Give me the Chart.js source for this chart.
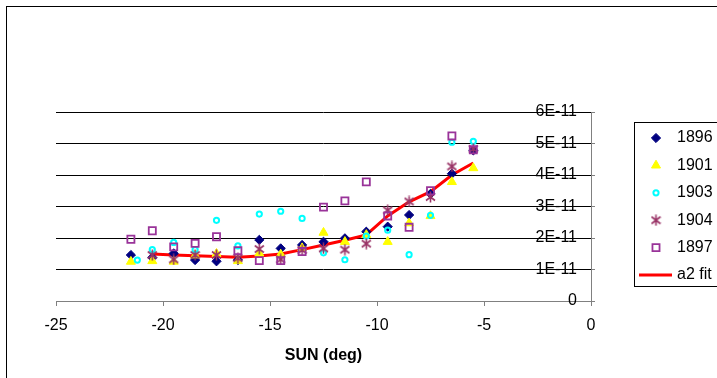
<!DOCTYPE html>
<html>
<head>
<meta charset="utf-8">
<title>SUN (deg)</title>
<script src="https://cdn.jsdelivr.net/npm/chart.js@4.4.0/dist/chart.umd.min.js"></script>
<style>
  html, body { margin: 0; padding: 0; background: #fff; }
  #wrap { width: 717px; height: 378px; }
</style>
</head>
<body>
<div id="wrap"><canvas id="sunChart" width="717" height="378"></canvas></div>
<script>
// sun elevation bins (deg)
var sunDeg = [-21.5, -20.5, -19.5, -18.5, -17.5, -16.5, -15.5, -14.5, -13.5,
              -12.5, -11.5, -10.5, -9.5, -8.5, -7.5, -6.5, -5.5];
var sunDeg1903 = [-21.2, -20.5, -19.5, -18.5, -17.5, -16.5, -15.5, -14.5, -13.5,
                  -12.5, -11.5, -10.5, -9.5, -8.5, -7.5, -6.5, -5.5];
var sunDegFit = [-20.5, -19.5, -18.5, -17.5, -16.5, -15.5, -14.5, -13.5,
                 -12.5, -11.5, -10.5, -9.5, -8.5, -7.5, -6.5, -5.5];

var y1896 = [1.46e-11, 1.38e-11, 1.51e-11, 1.30e-11, 1.26e-11, 1.30e-11, 1.94e-11, 1.67e-11, 1.78e-11,
             1.88e-11, 1.99e-11, 2.20e-11, 2.36e-11, 2.73e-11, 3.40e-11, 4.04e-11, 4.78e-11];
var y1901 = [1.25e-11, 1.27e-11, 1.25e-11, 1.45e-11, 1.50e-11, 1.27e-11, 1.51e-11, 1.48e-11, 1.68e-11,
             2.17e-11, 1.88e-11, 2.10e-11, 1.88e-11, 2.47e-11, 2.70e-11, 3.78e-11, 4.22e-11];
var y1903 = [1.30e-11, 1.63e-11, 1.86e-11, 1.63e-11, 2.56e-11, 1.75e-11, 2.76e-11, 2.85e-11, 2.62e-11,
             1.53e-11, 1.31e-11, 2.06e-11, 2.25e-11, 1.47e-11, 2.72e-11, 5.04e-11, 5.07e-11];
var y1904 = [1.46e-11, 1.32e-11, 1.46e-11, 1.46e-11, 1.36e-11, 1.65e-11, 1.32e-11, 1.62e-11,
             1.67e-11, 1.63e-11, 1.82e-11, 2.88e-11, 3.16e-11, 3.30e-11, 4.27e-11, 4.83e-11];
var y1897 = [1.96e-11, 2.23e-11, 1.72e-11, 1.83e-11, 2.04e-11, 1.60e-11, 1.28e-11, 1.28e-11, 1.57e-11,
             2.98e-11, 3.18e-11, 3.78e-11, 2.70e-11, 2.34e-11, 3.50e-11, 5.24e-11, 4.80e-11];
var yFit = [1.49e-11, 1.46e-11, 1.44e-11, 1.41e-11, 1.39e-11, 1.43e-11, 1.49e-11, 1.63e-11,
            1.78e-11, 1.93e-11, 2.10e-11, 2.70e-11, 3.15e-11, 3.47e-11, 4.00e-11, 4.38e-11];

var xTickValues = [-25, -20, -15, -10, -5, 0];
var yTickValues = [0, 1e-11, 2e-11, 3e-11, 4e-11, 5e-11, 6e-11];

Chart.defaults.font.family = '"Liberation Sans", Arial, sans-serif';
Chart.defaults.font.size = 16;
Chart.defaults.color = '#000';

function toPoints(xs, ys) {
    return xs.map(function (x, i) { return { x: x, y: ys[i] }; });
}

// excel style "*" marker: a cross with a vertical bar
function asteriskMarker(color) {
    var c = document.createElement('canvas');
    c.width = 11; c.height = 12;
    var g = c.getContext('2d');
    g.strokeStyle = color;
    g.lineWidth = 1.6;
    g.beginPath();
    g.moveTo(5.5, 0.5); g.lineTo(5.5, 11.5);
    g.moveTo(1, 2.5); g.lineTo(10, 9.5);
    g.moveTo(1, 9.5); g.lineTo(10, 2.5);
    g.stroke();
    return c;
}

// white page with the outer chart frame
var chartFrame = {
    id: 'chartFrame',
    beforeDraw: function (chart) {
        var ctx = chart.ctx;
        ctx.save();
        ctx.fillStyle = '#fff';
        ctx.fillRect(0, 0, chart.width, chart.height);
        ctx.strokeStyle = '#000';
        ctx.lineWidth = 1;
        ctx.strokeRect(6.5, 6.5, 800, 500);
        ctx.restore();
    }
};

// boxed legend on the right hand side
var legendBox = {
    id: 'legendBox',
    afterDraw: function (chart) {
        var ctx = chart.ctx;
        ctx.save();
        ctx.strokeStyle = '#000';
        ctx.lineWidth = 1;
        ctx.strokeRect(634.5, 122.5, 120, 164);
        ctx.font = '16px "Liberation Sans", Arial, sans-serif';
        ctx.textBaseline = 'middle';
        chart.data.datasets.forEach(function (ds, i) {
            var y = 138 + i * 27.4;
            if (ds.showLine) {
                ctx.strokeStyle = ds.borderColor;
                ctx.lineWidth = ds.borderWidth;
                ctx.beginPath();
                ctx.moveTo(639, y);
                ctx.lineTo(672, y);
                ctx.stroke();
            } else {
                ctx.fillStyle = ds.backgroundColor;
                ctx.strokeStyle = ds.borderColor;
                ctx.lineWidth = ds.borderWidth;
                Chart.helpers.drawPoint(ctx, {
                    pointStyle: ds.pointStyle,
                    radius: ds.pointRadius,
                    borderWidth: ds.borderWidth,
                    rotation: 0
                }, 656, y);
            }
            ctx.fillStyle = '#000';
            ctx.fillText(ds.label, 677, y);
        });
        ctx.restore();
    }
};

new Chart(document.getElementById('sunChart'), {
    type: 'scatter',
    data: {
        datasets: [{
            label: '1896',
            data: toPoints(sunDeg, y1896),
            pointStyle: 'rectRot',
            pointRadius: 4.6,
            backgroundColor: '#000080',
            borderColor: '#000080',
            borderWidth: 1,
            order: 5
        }, {
            label: '1901',
            data: toPoints(sunDeg, y1901),
            pointStyle: 'triangle',
            pointRadius: 5.2,
            backgroundColor: '#ffff00',
            borderColor: '#ffff00',
            borderWidth: 1,
            order: 4
        }, {
            label: '1903',
            data: toPoints(sunDeg1903, y1903),
            pointStyle: 'circle',
            pointRadius: 2.6,
            backgroundColor: 'rgba(0,0,0,0)',
            borderColor: '#00ffff',
            borderWidth: 2,
            order: 3
        }, {
            label: '1904',
            data: toPoints(sunDegFit, y1904),
            pointStyle: asteriskMarker('#993366'),
            pointRadius: 5,
            backgroundColor: '#993366',
            borderColor: '#993366',
            borderWidth: 1.6,
            order: 2
        }, {
            label: '1897',
            data: toPoints(sunDeg, y1897),
            pointStyle: 'rect',
            pointRadius: 5,
            backgroundColor: 'rgba(0,0,0,0)',
            borderColor: '#993399',
            borderWidth: 1.8,
            order: 1
        }, {
            label: 'a2 fit',
            data: toPoints(sunDegFit, yFit),
            showLine: true,
            pointRadius: 0,
            borderColor: '#ff0000',
            borderWidth: 3,
            tension: 0,
            order: 6
        }]
    },
    options: {
        responsive: false,
        animation: false,
        devicePixelRatio: 1,
        layout: { padding: { left: 56, top: 112, right: 116, bottom: 0 } },
        plugins: {
            legend: { display: false },
            tooltip: { enabled: false }
        },
        scales: {
            x: {
                type: 'linear',
                min: -25,
                max: 0,
                afterBuildTicks: function (s) {
                    s.ticks = xTickValues.map(function (v) { return { value: v }; });
                },
                afterFit: function (s) { s.height = 77; },
                grid: { drawOnChartArea: false, drawTicks: true, tickLength: 5, tickColor: '#808080' },
                border: { color: '#808080', width: 1 },
                ticks: { color: '#000', padding: 10, maxRotation: 0, autoSkip: false },
                title: {
                    display: true,
                    text: 'SUN (deg)',
                    color: '#000',
                    font: { size: 16, weight: 'bold' },
                    padding: { top: 4, bottom: 13 }
                }
            },
            y: {
                type: 'linear',
                position: 'right',
                min: 0,
                max: 6e-11,
                afterBuildTicks: function (s) {
                    s.ticks = yTickValues.map(function (v) { return { value: v }; });
                },
                afterFit: function (s) { s.width = 10; },
                grid: { color: '#000', lineWidth: 1, drawTicks: true, tickLength: 4, tickColor: '#808080' },
                border: { color: '#808080', width: 1 },
                ticks: {
                    mirror: true,
                    padding: -14,
                    color: '#000',
                    callback: function (v) {
                        return v === 0 ? '0' : Math.round(v * 1e11) + 'E-11';
                    }
                }
            }
        }
    },
    plugins: [chartFrame, legendBox]
});
</script>
</body>
</html>
